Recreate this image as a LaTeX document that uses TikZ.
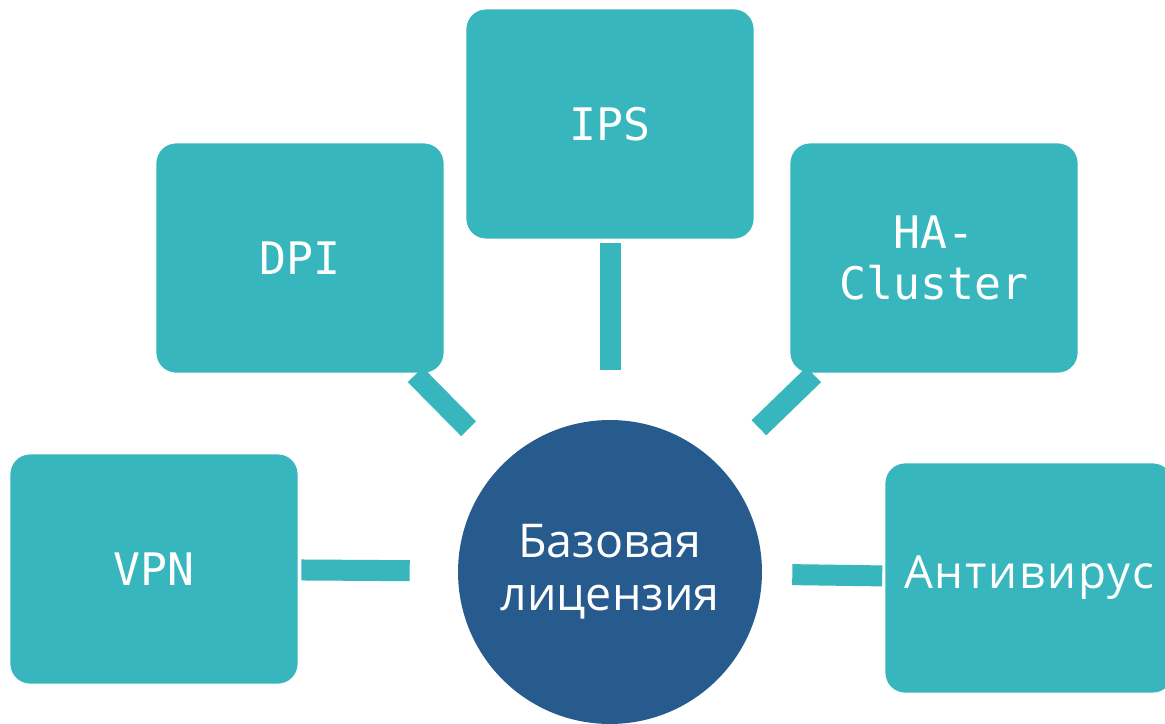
\documentclass[tikz,border=0pt]{standalone}
\usepackage{fontspec}
\setmonofont{DejaVu Sans Mono}
\newfontfamily\licfont{Open Sans}
\newfontfamily\avfont[LetterSpace=4]{Open Sans}
\definecolor{tealbox}{HTML}{38B6BD}
\definecolor{coreblue}{HTML}{275B8E}
\tikzstyle{modbox} = [draw=white, thin, fill=tealbox, rectangle,
    rounded corners=0.4cm, minimum width=5.76cm, minimum height=4.6cm,
    text=white, align=center, font=\ttfamily\fontsize{25.5}{29.5}\selectfont]
\tikzstyle{corecircle} = [fill=coreblue, circle, minimum size=6.08cm,
    inner sep=0pt, text=white, align=center, font=\licfont\fontsize{26.5}{30}\selectfont]
\tikzstyle{link} = [draw=tealbox, line width=0.42cm]

\begin{document}
\begin{tikzpicture}[x=0.02cm, y=-0.02cm]
    \useasboundingbox (0,0) rectangle (1165,723);
    % centre
    \node [corecircle] (base) at (610,572) {Базовая\\лицензия};
    % modules
    \node [modbox] (vpn) at (154,569) {VPN};
    \node [modbox] (dpi) at (300,258) {DPI};
    \node [modbox] (ips) at (610,124) {IPS};
    \node [modbox] (ha) at (934,258) {HA-\\Cluster};
    \node [modbox, font=\avfont\fontsize{26}{30}\selectfont] (av) at (1029,578) {Антивирус};
    % links
    \draw [link, shorten <=0.06cm, shorten >=0.96cm] (vpn) -- (base);
    \draw [link, shorten <=0.04cm, shorten >=0.98cm] (dpi) -- (base);
    \draw [link, shorten <=0.08cm, shorten >=1.0cm] (ips) -- (base);
    \draw [link, shorten <=0.04cm, shorten >=1.1cm] (ha) -- (base);
    \draw [link, shorten <=0.6cm, shorten >=0.05cm] (base) -- (av);
\end{tikzpicture}
\end{document}
